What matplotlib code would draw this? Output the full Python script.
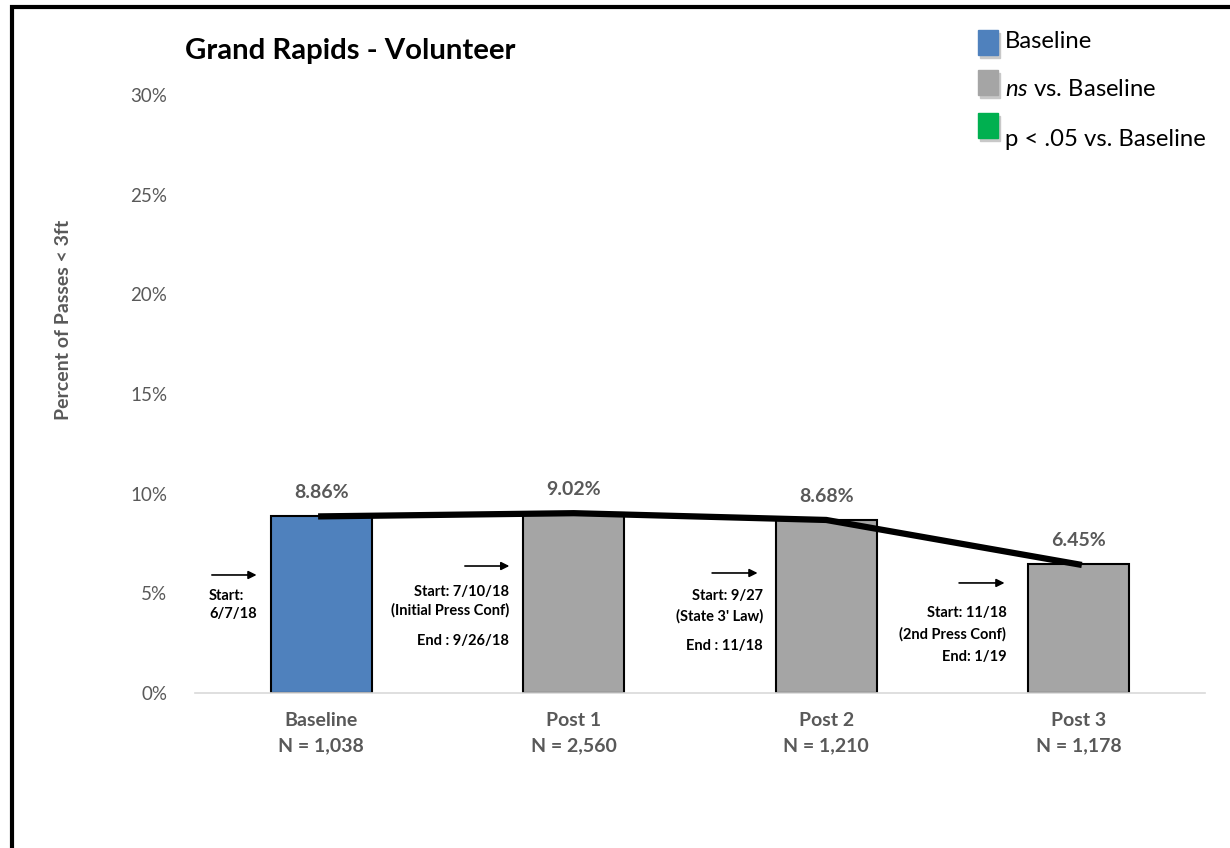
import numpy as np
import matplotlib
matplotlib.use("Agg")
import matplotlib.pyplot as plt
from matplotlib.patches import Rectangle

plt.rcParams['font.family'] = ['Lato', 'DejaVu Sans']
plt.rcParams['mathtext.fontset'] = 'custom'
plt.rcParams['mathtext.it'] = 'Lato:italic'
plt.rcParams['mathtext.rm'] = 'Lato'

# data
groups = ["Baseline", "Post 1", "Post 2", "Post 3"]
n_labels = ["N = 1,038", "N = 2,560", "N = 1,210", "N = 1,178"]
pct = [8.86, 9.02, 8.68, 6.45]
status = ["base", "ns", "ns", "ns"]
notes = [
    ["Start:\n6/7/18"],
    ["Start: 7/10/18", "(Initial Press Conf)", "End : 9/26/18"],
    ["Start: 9/27", "(State 3' Law)", "End : 11/18"],
    ["Start: 11/18", "(2nd Press Conf)", "End: 1/19"],
]

colors = {"base": "#4F81BD", "ns": "#A5A5A5", "sig": "#00B050"}
grey = "#595959"

fig = plt.figure(figsize=(12.3, 8.48), dpi=100)
ax = fig.add_axes([0.1585, 0.1828, 0.8212, 0.7052])

x = np.arange(len(groups))
ax.bar(x, pct, width=0.4, color=[colors[s] for s in status],
       edgecolor="black", linewidth=1.5, zorder=2)
ax.plot(x, pct, color="black", linewidth=4.5, zorder=3)
for xi, v in zip(x, pct):
    ax.text(xi, v + 1.2, f"{v:.2f}%", ha="center", va="center",
            fontsize=14, fontweight="bold", color=grey)

ax.set_xlim(-0.5, 3.5)
ax.set_ylim(0, 30)
ax.set_yticks(np.arange(0, 31, 5))
ax.set_yticklabels([f"{t}%" for t in range(0, 31, 5)], fontsize=13.5, color=grey)
ax.set_xticks(x)
ax.set_xticklabels([f"{g}\n{n}" for g, n in zip(groups, n_labels)],
                   fontsize=14, fontweight="bold", color=grey, linespacing=1.55)
ax.tick_params(length=0, pad=14)
ax.tick_params(axis="y", pad=20)
for s in ["top", "right", "left"]:
    ax.spines[s].set_visible(False)
ax.spines["bottom"].set_color("#D9D9D9")
ax.spines["bottom"].set_linewidth(1.2)
ax.set_ylabel("Percent of Passes < 3ft", fontsize=14, fontweight="bold", color=grey)
ax.yaxis.set_label_coords(-0.122, 0.624)

# arrows + period notes
arrow_pos = [(-0.444, -0.245, 5.92), (0.558, 0.756, 6.37),
             (1.537, 1.739, 6.02), (2.515, 2.717, 5.52)]
for (x0, x1, y), note in zip(arrow_pos, notes):
    ax.annotate("", xy=(x1, y), xytext=(x0, y),
                arrowprops=dict(arrowstyle="-|>", color="black", lw=1.2,
                                mutation_scale=12))
ax.text(-0.444, 4.41, notes[0][0], ha="left", va="center", fontsize=10.5,
        fontweight="bold", linespacing=1.4)
note_y = [[5.07, 4.16, 2.61], [4.87, 3.86, 2.36], [4.01, 2.96, 1.81]]
note_x = [0.745, 1.75, 2.713]
for nx, ys, note in zip(note_x, note_y, notes[1:]):
    for yy, line in zip(ys, note):
        ax.text(nx, yy, line, ha="right", va="center", fontsize=10.5,
                fontweight="bold")

fig.text(0.1505, 0.94, "Grand Rapids - Volunteer", fontsize=21.2,
         fontweight="bold", ha="left", va="center")

# legend
leg_items = [("Baseline", colors["base"], 42, 30), (r"$\it{ns}$ vs. Baseline", colors["ns"], 89, 70),
             ("p < .05 vs. Baseline", colors["sig"], 139, 113)]
for label, c, ty, top in leg_items:
    x0, w, h = 978, 20, 25
    fig.patches.append(Rectangle(((x0 + 2) / 1230, 1 - (top + h + 3) / 848), w / 1230, h / 848,
                                 transform=fig.transFigure, color="#C8C8C8", zorder=1))
    fig.patches.append(Rectangle((x0 / 1230, 1 - (top + h) / 848), w / 1230, h / 848,
                                 transform=fig.transFigure, color=c, zorder=2))
    fig.text(1005 / 1230, 1 - ty / 848, label, fontsize=17.2, ha="left", va="center")

# outer frame
fig.patches.append(Rectangle((12 / 1230, -0.05), 1.2, 1 - 7 / 848 + 0.05,
                             transform=fig.transFigure, fill=False,
                             edgecolor="black", linewidth=3))

fig.savefig("out.png", dpi=100)
